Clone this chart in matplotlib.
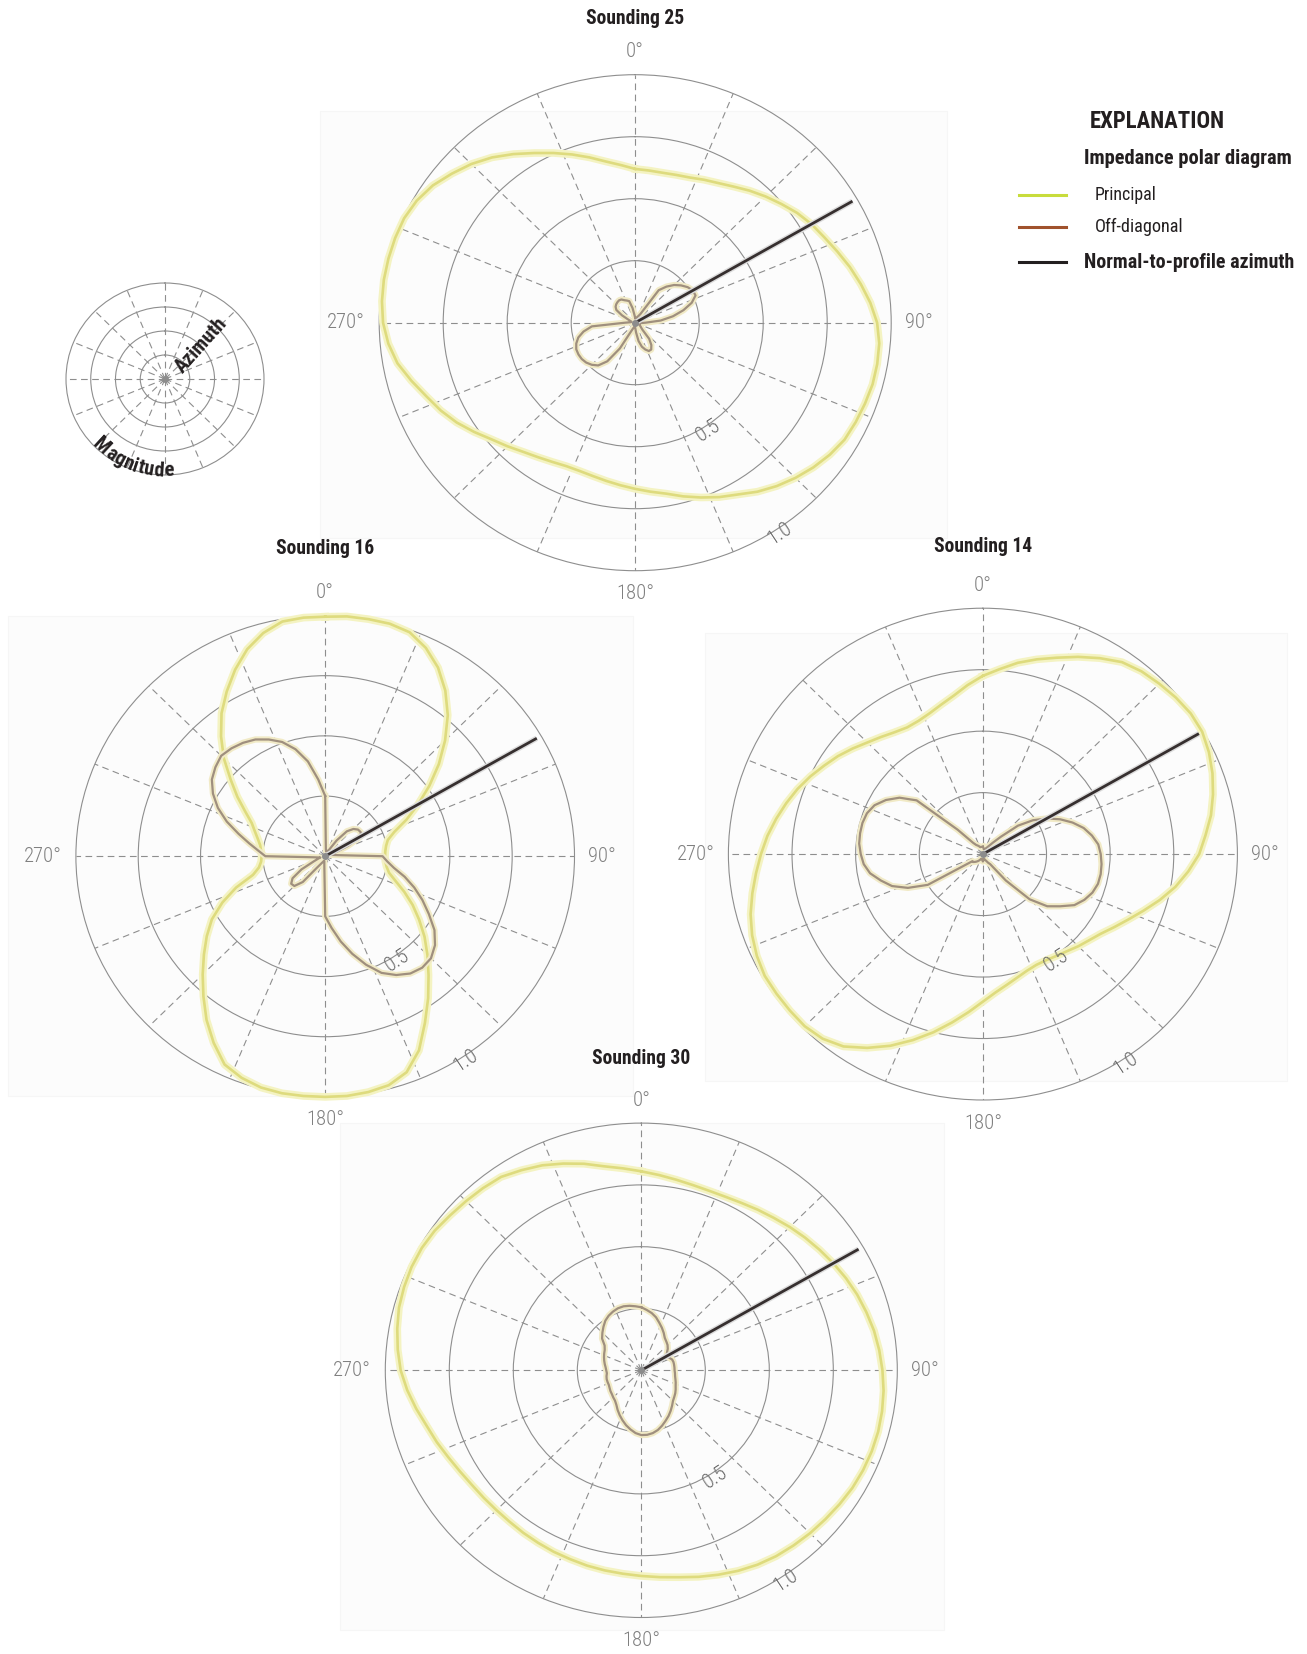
import numpy as np
import matplotlib
matplotlib.use('Agg')
import matplotlib.pyplot as plt
from matplotlib import font_manager
from matplotlib.lines import Line2D
from matplotlib.patches import Rectangle

# AZIMUTES (GRAUS, HORARIO A PARTIR DO NORTE)
azimuth = np.arange(0, 360, 5)

# SOUNDING 25
principal_25 = [0.62, 0.616, 0.614, 0.617, 0.623, 0.636, 0.65, 0.67, 0.695, 0.72, 0.745, 0.772,
                0.795, 0.815, 0.84, 0.868, 0.895, 0.922, 0.945, 0.957, 0.96, 0.96, 0.955, 0.95,
                0.944, 0.928, 0.908, 0.885, 0.86, 0.832, 0.80, 0.776, 0.75, 0.725, 0.70, 0.684,
                0.67, 0.658, 0.648, 0.64, 0.636, 0.638, 0.648, 0.662, 0.68, 0.705, 0.732, 0.768,
                0.805, 0.838, 0.868, 0.905, 0.943, 0.968, 0.985, 0.993, 0.997, 0.998, 0.998, 0.996,
                0.985, 0.965, 0.935, 0.905, 0.87, 0.83, 0.79, 0.755, 0.722, 0.69, 0.66, 0.638]
offdiag_25 = [0.02, 0.015, 0.015, 0.02, 0.025, 0.03, 0.04, 0.16, 0.19, 0.215, 0.234, 0.25,
              0.26, 0.26, 0.235, 0.195, 0.15, 0.10, 0.04, 0.02, 0.015, 0.015, 0.015, 0.02,
              0.02, 0.025, 0.03, 0.04, 0.085, 0.11, 0.125, 0.126, 0.115, 0.10, 0.075, 0.04,
              0.02, 0.015, 0.015, 0.02, 0.025, 0.04, 0.12, 0.19, 0.225, 0.24, 0.25, 0.255,
              0.256, 0.254, 0.245, 0.23, 0.205, 0.17, 0.04, 0.02, 0.015, 0.015, 0.02, 0.03,
              0.06, 0.09, 0.10, 0.105, 0.108, 0.11, 0.108, 0.10, 0.095, 0.09, 0.06, 0.03]

# SOUNDING 16
principal_16 = [0.995, 1.0, 1.0, 1.0, 0.99, 0.955, 0.905, 0.84, 0.765, 0.68, 0.595, 0.51,
                0.43, 0.36, 0.295, 0.26, 0.248, 0.242, 0.24, 0.242, 0.25, 0.265, 0.30, 0.35,
                0.405, 0.46, 0.52, 0.58, 0.645, 0.72, 0.80, 0.89, 0.955, 0.985, 0.995, 1.0,
                1.0, 1.0, 1.0, 0.995, 0.98, 0.955, 0.895, 0.83, 0.76, 0.695, 0.635, 0.58,
                0.525, 0.455, 0.38, 0.30, 0.27, 0.258, 0.255, 0.258, 0.265, 0.28, 0.30, 0.325,
                0.37, 0.43, 0.495, 0.575, 0.65, 0.725, 0.79, 0.855, 0.915, 0.96, 0.99, 0.995]
offdiag_16 = [0.25, 0.03, 0.02, 0.02, 0.02, 0.025, 0.03, 0.08, 0.135, 0.16, 0.172, 0.174,
              0.165, 0.10, 0.04, 0.02, 0.03, 0.05, 0.23, 0.25, 0.28, 0.33, 0.38, 0.43,
              0.48, 0.535, 0.575, 0.60, 0.605, 0.595, 0.57, 0.535, 0.48, 0.42, 0.36, 0.30,
              0.25, 0.04, 0.02, 0.02, 0.025, 0.03, 0.04, 0.06, 0.14, 0.175, 0.178, 0.16,
              0.11, 0.05, 0.03, 0.02, 0.03, 0.05, 0.24, 0.27, 0.31, 0.36, 0.42, 0.475,
              0.52, 0.555, 0.575, 0.59, 0.585, 0.575, 0.56, 0.535, 0.505, 0.46, 0.40, 0.32]

# SOUNDING 14
principal_14 = [0.725, 0.755, 0.79, 0.82, 0.85, 0.885, 0.92, 0.953, 0.97, 0.98, 0.99, 0.997,
                0.995, 0.98, 0.96, 0.936, 0.91, 0.878, 0.85, 0.81, 0.768, 0.72, 0.672, 0.63,
                0.595, 0.565, 0.545, 0.53, 0.515, 0.505, 0.498, 0.497, 0.505, 0.52, 0.54, 0.565,
                0.60, 0.645, 0.695, 0.75, 0.805, 0.86, 0.91, 0.955, 0.98, 0.99, 0.99, 0.99,
                0.99, 0.98, 0.965, 0.945, 0.92, 0.895, 0.872, 0.85, 0.825, 0.80, 0.775, 0.748,
                0.72, 0.695, 0.668, 0.642, 0.622, 0.605, 0.595, 0.598, 0.61, 0.63, 0.655, 0.69]
offdiag_14 = [0.03, 0.025, 0.02, 0.02, 0.02, 0.025, 0.03, 0.04, 0.06, 0.10, 0.18, 0.24,
              0.29, 0.335, 0.375, 0.41, 0.435, 0.455, 0.463, 0.468, 0.47, 0.468, 0.458, 0.44,
              0.415, 0.37, 0.33, 0.26, 0.14, 0.05, 0.04, 0.03, 0.025, 0.02, 0.02, 0.025,
              0.03, 0.025, 0.02, 0.02, 0.02, 0.025, 0.03, 0.035, 0.04, 0.045, 0.05, 0.05,
              0.25, 0.325, 0.38, 0.415, 0.45, 0.47, 0.48, 0.488, 0.49, 0.49, 0.485, 0.47,
              0.44, 0.40, 0.34, 0.14, 0.06, 0.045, 0.04, 0.035, 0.03, 0.03, 0.03, 0.03]

# SOUNDING 30
principal_30 = [0.805, 0.793, 0.783, 0.776, 0.773, 0.775, 0.782, 0.793, 0.805, 0.82, 0.835, 0.85,
                0.866, 0.882, 0.897, 0.91, 0.923, 0.933, 0.942, 0.95, 0.955, 0.958, 0.958, 0.956,
                0.952, 0.945, 0.938, 0.932, 0.925, 0.918, 0.908, 0.895, 0.88, 0.865, 0.85, 0.84,
                0.832, 0.826, 0.822, 0.818, 0.813, 0.81, 0.806, 0.803, 0.80, 0.80, 0.803, 0.808,
                0.818, 0.832, 0.85, 0.868, 0.893, 0.918, 0.94, 0.955, 0.968, 0.98, 0.986, 0.99,
                0.99, 0.985, 0.975, 0.968, 0.962, 0.955, 0.935, 0.915, 0.89, 0.865, 0.838, 0.82]
offdiag_30 = [0.255, 0.245, 0.235, 0.222, 0.205, 0.19, 0.175, 0.16, 0.152, 0.145, 0.135, 0.122,
              0.115, 0.12, 0.128, 0.13, 0.13, 0.13, 0.13, 0.132, 0.134, 0.138, 0.143, 0.148,
              0.155, 0.162, 0.168, 0.175, 0.187, 0.2, 0.213, 0.225, 0.238, 0.25, 0.258, 0.262,
              0.262, 0.255, 0.243, 0.23, 0.215, 0.2, 0.185, 0.17, 0.16, 0.155, 0.15, 0.147,
              0.143, 0.14, 0.14, 0.14, 0.138, 0.135, 0.137, 0.14, 0.145, 0.15, 0.155, 0.16,
              0.165, 0.175, 0.2, 0.215, 0.23, 0.245, 0.255, 0.262, 0.267, 0.268, 0.265, 0.26]

# NORMAL AO PERFIL
normal_azimuth = 60
normal_length = 0.98

W, H = 1307, 1654
GRID = '#8e8e8e'
LABEL = '#808080'
INK = '#231f20'

names = {f.name for f in font_manager.fontManager.ttflist}
cond = [f for f in ['Roboto Condensed', 'Liberation Sans Narrow', 'Roboto', 'Liberation Sans', 'DejaVu Sans'] if f in names][0]
plt.rcParams['font.family'] = [cond, 'DejaVu Sans']

fig = plt.figure(figsize=(W / 100, H / 100), dpi=100)
renderer = fig.canvas.get_renderer()


def fit(t, target):
    # AJUSTA O TAMANHO DA FONTE PARA A LARGURA DA REFERENCIA
    w = t.get_window_extent(renderer).width
    t.set_fontsize(t.get_fontsize() * target / w)
    return t.get_fontsize()


# TAMANHOS DE FONTE
probe = fig.text(0, 0, '270°', fontsize=15, fontweight='light')
label_size = fit(probe, 38)
probe.remove()
probe = fig.text(0, 0, 'Sounding 25', fontsize=14, fontweight='bold')
title_size = fit(probe, 99)
probe.remove()
probe = fig.text(0, 0, 'Azimuth', fontsize=14, fontweight='bold')
key_size = fit(probe, 68)
probe.remove()

# CAIXAS DE FUNDO
for x0, y0, x1, y1 in [(320, 111, 947, 538), (8, 616, 633, 1096), (705, 633, 1287, 1081), (340, 1123, 944, 1630)]:
    fig.add_artist(Rectangle((x0 / W, 1 - y1 / H), (x1 - x0) / W, (y1 - y0) / H, transform=fig.transFigure,
                             facecolor='#fcfcfc', edgecolor='#f6f6f6', lw=0.8, zorder=0))


def panel(cx, cy, rx, ry, labels=True):
    ax = fig.add_axes([(cx - rx) / W, 1 - (cy + ry) / H, 2 * rx / W, 2 * ry / H], projection='polar')
    ax.set_aspect('auto')
    ax.patch.set_visible(False)
    ax.set_theta_zero_location('N')
    ax.set_theta_direction(-1)
    ax.set_ylim(0, 1)
    ax.set_xticks(np.radians(np.arange(0, 360, 22.5)))
    ax.set_yticks([0.25, 0.5, 0.75])
    ax.set_xticklabels([])
    ax.set_yticklabels([])
    ax.tick_params(length=0)
    ax.xaxis.grid(True, color=GRID, lw=0.8, ls=(0, (6, 4)))
    ax.yaxis.grid(True, color=GRID, lw=0.8, ls='-')
    ax.spines['polar'].set_color(GRID)
    ax.spines['polar'].set_linewidth(0.8)
    ax.plot(0, 0, 'o', ms=4, color='#8c8c8c', zorder=7)
    if labels:
        for a, ha, va in [(0, 'center', 'bottom'), (90, 'left', 'center'), (180, 'center', 'top'), (270, 'right', 'center')]:
            ax.text(np.radians(a), 1.055, f'{a}°', ha=ha, va=va, fontsize=label_size, fontweight='light', color=LABEL)
        for v in [0.5, 1.0]:
            ax.text(np.radians(146.5), v + 0.02, f'{v:.1f}', rotation=33.5, rotation_mode='anchor',
                    ha='center', va='center', fontsize=label_size, fontweight='light', color='#6a6a6a', zorder=8)
    return ax


def loop(r):
    return np.radians(np.append(azimuth, azimuth[0])), np.append(r, r[0])


def sounding(cx, cy, rx, ry, title, ty, principal, offdiag):
    ax = panel(cx, cy, rx, ry)
    t, r = loop(principal)
    ax.plot(t, r, color='#f4f3c2', lw=5.5, solid_joinstyle='round', zorder=3, clip_on=False)
    ax.plot(t, r, color='#dedb7e', lw=1.9, solid_joinstyle='round', zorder=3, clip_on=False)
    t, r = loop(offdiag)
    ax.plot(t, r, color='#f1eac6', lw=4.5, solid_joinstyle='round', zorder=4)
    ax.plot(t, r, color='#9f8f7e', lw=1.6, solid_joinstyle='round', zorder=4)
    ax.plot(np.radians([normal_azimuth, normal_azimuth]), [0, normal_length], color='#dcdcdc',
            lw=4, solid_capstyle='butt', zorder=5)
    ax.plot(np.radians([normal_azimuth, normal_azimuth]), [0, normal_length], color='#362f2f',
            lw=2, solid_capstyle='butt', zorder=6)
    fig.text(cx / W, 1 - ty / H, title, ha='center', va='center', fontsize=title_size, fontweight='bold', color=INK)
    return ax


sounding(635.2, 322.7, 256, 248, 'Sounding 25', 18, principal_25, offdiag_25)
sounding(325.2, 856.2, 249.3, 240.7, 'Sounding 16', 549, principal_16, offdiag_16)
sounding(982.9, 854.1, 254.5, 245.9, 'Sounding 14', 546, principal_14, offdiag_14)
sounding(641.3, 1370.3, 256, 247.2, 'Sounding 30', 1058, principal_30, offdiag_30)

# DIAGRAMA DE REFERENCIA
key = panel(165, 379, 99, 96, labels=False)
key.text(np.radians(45.6), 0.506, 'Azimuth', rotation=48, rotation_mode='anchor', ha='center', va='center',
         fontsize=key_size, fontweight='bold', color=INK)
word = 'Magnitude'
widths = []
for ch in word:
    probe = fig.text(0, 0, ch, fontsize=key_size, fontweight='bold')
    widths.append(probe.get_window_extent(renderer).width)
    probe.remove()
step = np.degrees(np.array(widths) / 94.0)
b = 201 + step.sum() / 2
for ch, s in zip(word, step):
    bc = b - s / 2
    key.text(np.radians(bc), 0.955, ch, rotation=180 - bc, rotation_mode='anchor', ha='center', va='center',
             fontsize=key_size, fontweight='bold', color=INK)
    b -= s

# LEGENDA
t = fig.text(1157 / W, 1 - 121 / H, 'EXPLANATION', ha='center', va='center', fontsize=16, fontweight='bold', color=INK)
fit(t, 135)
t = fig.text(1084 / W, 1 - 159 / H, 'Impedance polar diagram', ha='left', va='center', fontsize=14, fontweight='bold', color=INK)
fit(t, 209)
for y, c, txt, bold, width in [(195, '#c8dc3c', 'Principal', False, 62), (227, '#a0522d', 'Off-diagonal', False, 89),
                               (262, INK, 'Normal-to-profile azimuth', True, 211)]:
    fig.add_artist(Line2D([1019 / W, 1066 / W], [1 - y / H, 1 - y / H], transform=fig.transFigure, color=c, lw=2.2))
    t = fig.text((1084 if bold else 1095) / W, 1 - y / H, txt, ha='left', va='center', fontsize=14,
                 fontweight='bold' if bold else 'normal', color=INK)
    fit(t, width)

fig.savefig('out.png', dpi=100, facecolor='white')
